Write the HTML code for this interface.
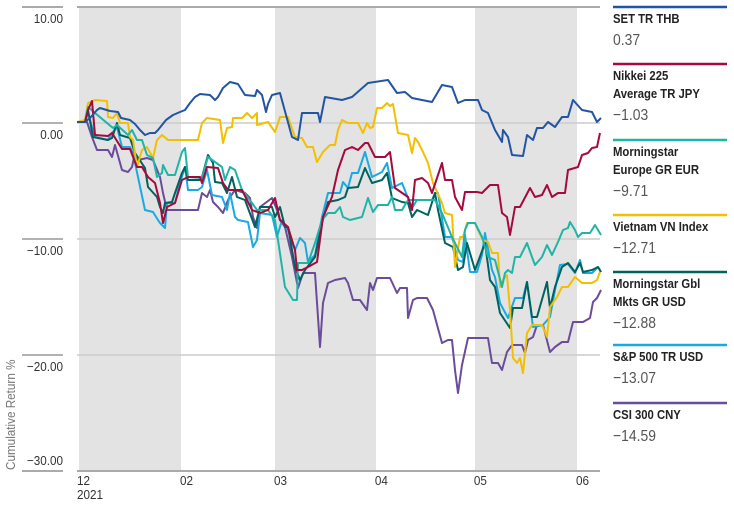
<!DOCTYPE html>
<html><head><meta charset="utf-8"><style>
body{margin:0;background:#fff;}
svg{display:block;font-family:"Liberation Sans Narrow","Liberation Sans",sans-serif;}
.yl{font-size:13px;fill:#333;text-anchor:end;}
.xl{font-size:13px;fill:#333;}
.ln{fill:none;stroke-width:2;stroke-linejoin:round;}
.nm{font-size:13px;font-weight:bold;fill:#222;}
.vl{font-size:16px;fill:#555;}
</style></head><body>
<svg width="734" height="505" viewBox="0 0 734 505">
<rect x="79" y="8" width="102" height="463" fill="#e3e3e3"/>
<rect x="275" y="8" width="101" height="463" fill="#e3e3e3"/>
<rect x="475" y="8" width="102" height="463" fill="#e3e3e3"/>
<g stroke="#ccc" stroke-width="1.5">
<line x1="77" y1="123" x2="600" y2="123"/><line x1="77" y1="239" x2="600" y2="239"/><line x1="77" y1="355" x2="600" y2="355"/>
</g>
<g stroke="#aaa" stroke-width="2">
<line x1="77" y1="7" x2="600" y2="7"/><line x1="77" y1="471" x2="600" y2="471"/>
<line x1="22" y1="7" x2="63" y2="7"/><line x1="22" y1="471" x2="63" y2="471"/>
</g>
<g stroke="#999" stroke-width="1.5">
<line x1="22" y1="123" x2="63" y2="123"/><line x1="22" y1="239" x2="63" y2="239"/><line x1="22" y1="355" x2="63" y2="355"/>
</g>
<g transform="translate(63,0) scale(0.9,1)">
<text class="yl" x="0" y="23">10.00</text>
<text class="yl" x="0" y="139">0.00</text>
<text class="yl" x="0" y="255">−10.00</text>
<text class="yl" x="0" y="371">−20.00</text>
<text class="yl" x="0" y="465">−30.00</text>
</g>
<text x="0" y="0" transform="translate(15,470) rotate(-90) scale(0.9,1)" font-size="13" fill="#777">Cumulative Return %</text>
<g transform="scale(0.9,1)">
<text class="xl" x="85.5" y="485">12</text>
<text class="xl" x="85.5" y="499" fill="#555">2021</text>
<text class="xl" x="200" y="485">02</text>
<text class="xl" x="304.5" y="485">03</text>
<text class="xl" x="416.5" y="485">04</text>
<text class="xl" x="526.5" y="485">05</text>
<text class="xl" x="640" y="485">06</text>
</g>

<polyline class="ln" stroke="#6b4c9a" points="77,122 87,122 92,137 97,150 108,150 112,157 115,145 122,170 128,172 132,167 135,153 138,160 147,158 153,160 160,177 163,193 167,210 198,210 202,193 207,197 210,190 213,202 218,207 223,213 228,200 235,190 245,193 250,198 253,217 257,228 260,207 272,198 277,210 280,220 285,227 292,257 298,288 303,273 315,273 320,347 323,303 328,283 335,280 345,278 348,283 353,300 360,300 367,310 370,283 373,290 377,278 390,278 397,293 400,288 407,288 408,318 413,300 417,298 427,298 433,310 442,343 448,340 452,340 455,370 458,393 462,365 468,338 488,338 492,363 498,363 502,370 507,352 512,345 522,345 525,353 528,340 533,337 537,325 543,325 550,352 555,347 562,342 568,342 573,322 583,322 590,318 593,302 597,298 601,290"/>
<polyline class="ln" stroke="#1ba9e1" points="77,122 85,122 88,113 95,137 108,140 112,133 117,127 122,147 130,147 133,153 138,177 145,210 153,212 158,220 160,223 165,228 167,203 175,203 180,183 185,167 188,190 198,190 202,187 207,170 212,195 222,197 227,210 230,193 235,217 238,220 248,222 253,247 257,240 260,213 272,215 277,237 282,220 288,230 295,250 300,238 305,243 308,262 315,255 322,217 328,193 335,193 340,193 343,182 348,188 352,173 358,173 365,152 372,177 382,172 387,163 392,188 402,183 412,208 417,200 432,200 435,193 438,193 445,237 452,237 458,260 463,262 465,235 470,272 477,272 482,255 485,233 492,270 495,277 500,303 508,318 515,298 523,298 527,282 533,327 543,325 550,317 555,290 560,265 568,264 575,273 580,260 583,273 592,273 598,267 601,272"/>
<polyline class="ln" stroke="#00625f" points="77,122 85,122 88,110 93,137 108,140 112,138 117,123 120,135 130,138 135,153 145,168 148,187 157,197 160,207 163,213 165,203 172,202 175,193 182,173 185,167 188,180 200,180 202,177 208,155 213,163 215,182 222,183 227,193 232,177 237,197 245,200 255,227 260,207 272,207 275,217 280,207 285,227 288,227 295,267 300,280 305,270 315,257 322,223 328,202 338,200 345,197 348,188 358,187 365,168 372,183 382,180 387,173 392,198 402,202 408,203 412,217 417,210 428,215 435,193 438,210 445,243 453,247 458,270 463,267 467,243 475,270 485,243 490,280 495,287 500,313 510,328 513,308 522,308 527,282 532,317 537,317 547,282 550,308 555,287 562,267 568,263 575,272 580,263 583,272 592,270 598,267 601,272"/>
<polyline class="ln" stroke="#f2c000" points="77,122 85,120 88,103 95,100 107,101 108,117 113,118 117,113 120,123 128,123 130,137 133,140 137,167 142,150 147,147 153,158 157,140 162,135 168,140 198,140 202,123 207,118 220,120 223,143 227,128 232,127 233,118 242,118 247,113 252,118 257,113 257,125 268,122 275,132 280,117 288,117 295,137 302,138 307,147 313,147 317,162 323,152 330,145 335,145 338,130 342,120 348,123 358,123 363,133 367,123 370,128 373,127 377,108 382,108 387,103 390,106 393,104 398,133 408,135 412,153 415,138 418,142 423,152 428,163 433,183 442,203 445,213 452,215 455,267 460,237 463,237 467,223 475,223 478,230 483,240 488,242 492,253 498,253 500,287 503,280 507,275 510,310 513,358 517,363 520,358 523,373 527,333 532,325 542,325 547,337 550,307 557,297 562,287 568,287 575,277 582,283 592,283 597,280 600,272"/>
<polyline class="ln" stroke="#1fb5a6" points="77,122 85,122 88,107 95,113 107,123 113,128 117,125 128,135 132,130 137,140 142,140 147,155 153,158 157,177 162,173 163,165 168,175 175,175 182,152 185,148 188,177 202,178 208,157 222,167 225,180 230,167 235,170 242,190 252,203 257,210 268,210 275,220 278,240 285,287 293,300 297,300 298,263 308,263 315,243 322,220 328,213 335,213 340,207 343,217 350,220 362,217 368,198 373,212 378,205 388,205 392,197 395,210 402,210 408,200 435,200 442,213 452,237 462,257 465,230 468,223 475,223 482,237 488,257 495,260 502,287 505,273 508,270 512,273 515,257 520,257 527,243 532,257 535,265 542,257 547,245 552,255 558,242 563,230 568,228 570,222 575,230 578,237 582,233 590,233 595,225 601,235"/>
<polyline class="ln" stroke="#a6093d" points="77,122 85,122 88,110 92,101 95,135 108,136 112,133 122,149 130,149 137,167 142,167 148,177 155,183 160,203 163,223 167,207 175,203 178,193 182,180 188,177 200,177 202,183 207,167 218,168 223,183 228,190 242,190 252,210 260,213 268,210 275,198 280,220 288,227 295,250 297,270 302,270 308,267 317,262 323,217 332,197 338,170 345,150 352,147 358,150 365,143 368,143 375,157 385,157 390,152 395,188 408,197 412,210 415,180 422,178 428,183 432,193 442,163 445,180 452,180 455,197 462,210 465,192 477,192 482,193 490,185 498,185 502,213 507,217 510,235 515,207 520,207 530,188 535,197 542,195 547,185 552,197 558,193 565,193 568,170 578,167 582,155 588,153 592,148 597,147 600,133"/>
<polyline class="ln" stroke="#2155a3" points="77,122 85,122 90,118 97,110 100,108 110,111 118,112 121,118 130,120 135,124 140,130 145,135 150,133 155,133 158,130 166,120 173,115 180,112 185,110 190,103 195,97 200,94 210,95 215,100 218,97 223,88 230,82 238,84 245,95 255,96 257,90 262,95 266,112 268,104 272,95 280,93 292,137 298,140 302,113 318,113 320,122 325,97 342,100 352,97 368,83 388,80 397,93 405,92 412,98 432,102 442,85 452,87 458,103 465,100 478,100 482,110 488,113 495,130 502,142 503,130 508,137 512,155 523,156 527,135 533,140 537,128 543,128 548,122 555,127 562,117 568,117 573,100 582,110 592,112 597,122 601,118"/>

<g stroke-width="2.5">
<line x1="613" y1="7" x2="727" y2="7" stroke="#2155a3"/>
<line x1="613" y1="64" x2="727" y2="64" stroke="#a6093d"/>
<line x1="613" y1="140" x2="727" y2="140" stroke="#1fb5a6"/>
<line x1="613" y1="215" x2="727" y2="215" stroke="#f2c000"/>
<line x1="613" y1="272" x2="727" y2="272" stroke="#00625f"/>
<line x1="613" y1="345" x2="727" y2="345" stroke="#1ba9e1"/>
<line x1="613" y1="403" x2="727" y2="403" stroke="#6b4c9a"/>
</g>
<g transform="translate(613,0) scale(0.87,1)">
<text class="nm" x="0" y="23">SET TR THB</text>
<text class="vl" x="0" y="45">0.37</text>
<text class="nm" x="0" y="80">Nikkei 225</text>
<text class="nm" x="0" y="98">Average TR JPY</text>
<text class="vl" x="0" y="120">−1.03</text>
<text class="nm" x="0" y="156">Morningstar</text>
<text class="nm" x="0" y="174">Europe GR EUR</text>
<text class="vl" x="0" y="196">−9.71</text>
<text class="nm" x="0" y="231">Vietnam VN Index</text>
<text class="vl" x="0" y="253">−12.71</text>
<text class="nm" x="0" y="288">Morningstar Gbl</text>
<text class="nm" x="0" y="306">Mkts GR USD</text>
<text class="vl" x="0" y="328">−12.88</text>
<text class="nm" x="0" y="361">S&amp;P 500 TR USD</text>
<text class="vl" x="0" y="383">−13.07</text>
<text class="nm" x="0" y="419">CSI 300 CNY</text>
<text class="vl" x="0" y="441">−14.59</text>
</g>
</svg>
</body></html>
